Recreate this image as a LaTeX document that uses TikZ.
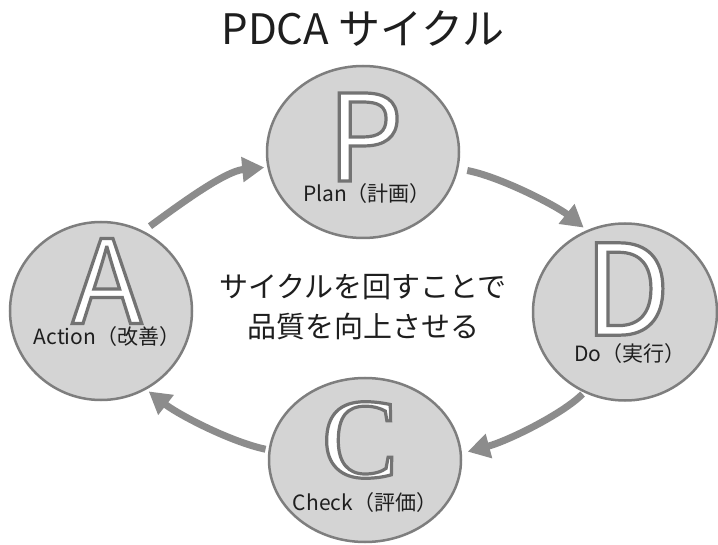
\documentclass[tikz,border=0pt]{standalone}
\usepackage{fontspec}
\setmainfont{Noto Sans CJK JP}
\newfontfamily\serifC{Liberation Serif}
\usetikzlibrary{shapes.geometric,arrows.meta}
\definecolor{cfill}{HTML}{D4D4D4}
\definecolor{cedge}{HTML}{7E7E7E}
\definecolor{arrowgray}{HTML}{8C8C8C}
\definecolor{txt}{HTML}{1E1E1E}
\newcommand\outlinedtext[1]{\special{pdf:literal direct 1 g 0.45 G 3.2 w 2 Tr}#1\special{pdf:literal direct 0 Tr 0 g 0 G}}
\begin{document}
\begin{tikzpicture}[x=1pt,y=-1pt,
  phase/.style={ellipse, draw=cedge, line width=2.5pt, fill=cfill, inner sep=0pt},
  arr/.style={draw=arrowgray, line width=7pt, -{Triangle[length=22pt,width=24pt]}},
  bigl/.style={inner sep=0pt},
  lab/.style={font=\fontsize{21}{21}\selectfont, text=txt, inner sep=0pt, anchor=base},
  mid/.style={font=\fontsize{29}{29}\selectfont, text=txt, inner sep=0pt, anchor=base}]
\useasboundingbox[fill=white] (0,0) rectangle (718,545);

\node[font=\fontsize{42}{42}\selectfont, text=txt, inner sep=0pt, anchor=base] (title) at (363,45) {PDCA サイクル};

\node[phase, minimum width=192pt, minimum height=172pt] (P) at (363,152) {};
\node[phase, minimum width=182pt, minimum height=178pt] (A) at (101,311) {};
\node[phase, minimum width=184pt, minimum height=177pt] (D) at (625,312) {};
\node[phase, minimum width=192pt, minimum height=164pt] (C) at (365,460) {};

\node[bigl, font=\fontsize{120}{120}\selectfont] (Pl) at (365,137) {\outlinedtext{P}};
\node[bigl, font=\fontsize{116}{116}\selectfont] (Al) at (107,281) {\outlinedtext{A}};
\node[bigl, font=\fontsize{126}{126}\selectfont] (Dl) at (627,289) {\outlinedtext{D}};
\node[bigl, font=\serifC\fontsize{114}{114}\selectfont] (Cl) at (360,440) {\outlinedtext{C}};

\node[lab] (Plab) at (367,202) {Plan（計画）};
\node[lab] (Alab) at (107,345) {Action（改善）};
\node[lab] (Dlab) at (630,362) {Do（実行）};
\node[lab] (Clab) at (365,510) {Check（評価）};

\node[mid] (m1) at (363,298) {サイクルを回すことで};
\node[mid] (m2) at (363,338) {品質を向上させる};

\draw[arr, shorten <=8pt, shorten >=3pt] (A.62) .. controls +(38,-28) and +(-42,4) .. (P.189);
\draw[arr, shorten <=9pt, shorten >=4pt] (P.350) .. controls +(42,8) and +(-30,-24) .. (D.115);
\draw[arr, shorten <=2pt, shorten >=6pt] (D.243) .. controls +(-22,22) and +(45,-12) .. (C.4);
\draw[arr, shorten <=3pt, shorten >=3pt] (C.174) .. controls +(-38,-8) and +(32,25) .. (A.300);
\end{tikzpicture}
\end{document}
